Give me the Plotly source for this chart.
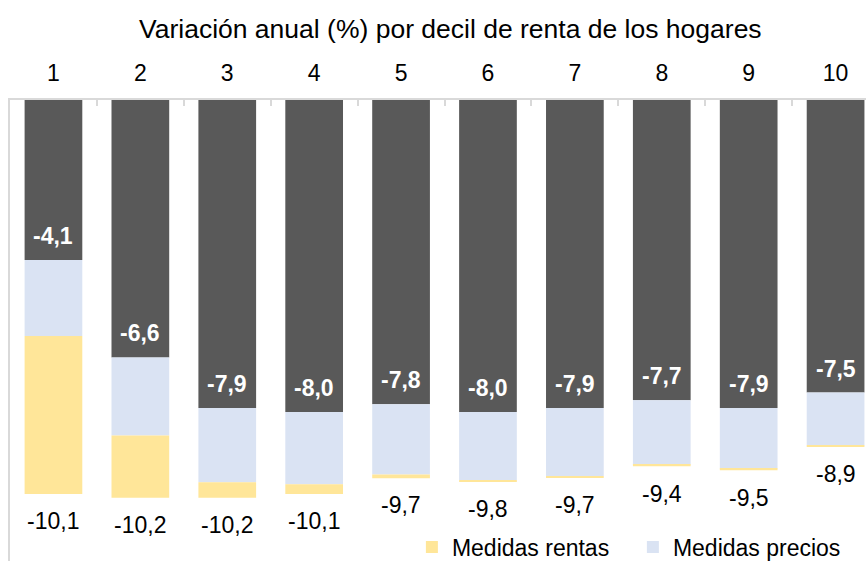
import plotly.graph_objects as go

# ---- data ----
deciles = ["1", "2", "3", "4", "5", "6", "7", "8", "9", "10"]
sin_medidas = [-4.1, -6.6, -7.9, -8.0, -7.8, -8.0, -7.9, -7.7, -7.9, -7.5]
medidas_precios = [-1.95, -2.0, -1.9, -1.85, -1.8, -1.75, -1.75, -1.65, -1.55, -1.35]
medidas_rentas = [-4.05, -1.6, -0.4, -0.25, -0.1, -0.04, -0.04, -0.04, -0.04, -0.04]
title_text = "Variación anual (%) por decil de renta de los hogares"

totales = [round(a + b + c, 1) for a, b, c in zip(sin_medidas, medidas_precios, medidas_rentas)]


def fmt(v):
    return f"{v:.1f}".replace(".", ",")


FONT = "Liberation Sans, Arial, sans-serif"
FS = 23
GRAY = "#595959"
BLUE = "#DAE3F3"
YELLOW = "#FFE699"
AXIS = "#D9D9D9"

fig = go.Figure()
fig.add_trace(go.Bar(x=deciles, y=sin_medidas, name="Sin medidas",
                     marker=dict(color=GRAY, line=dict(width=0)), showlegend=False,
                     hoverinfo="skip"))
fig.add_trace(go.Bar(x=deciles, y=medidas_precios, name="Medidas precios",
                     marker=dict(color=BLUE, line=dict(width=0))))
fig.add_trace(go.Bar(x=deciles, y=medidas_rentas, name="Medidas rentas",
                     marker=dict(color=YELLOW, line=dict(width=0))))

annotations = []
for i, v in enumerate(sin_medidas):
    annotations.append(dict(x=i, y=v, xref="x", yref="y", text="<b>" + fmt(v) + "</b>",
                            showarrow=False, yanchor="middle", yshift=24,
                            font=dict(family=FONT, size=FS, color="white")))
for i, v in enumerate(totales):
    annotations.append(dict(x=i, y=v, xref="x", yref="y", text=fmt(v),
                            showarrow=False, yanchor="middle", yshift=-27,
                            font=dict(family=FONT, size=FS, color="black")))

fig.update_layout(
    width=866, height=561,
    margin=dict(l=10, r=0, t=100, b=0, pad=0, autoexpand=False),
    paper_bgcolor="white", plot_bgcolor="white",
    barmode="relative", bargap=0.336,
    font=dict(family=FONT, size=FS, color="black"),
    title=dict(text=title_text, x=0.52, xanchor="center", y=1 - 29 / 561, yanchor="middle",
               font=dict(family=FONT, size=26.5, color="black")),
    xaxis=dict(type="category", side="top", range=[-0.5, 9.35], automargin=False,
               showline=True, linecolor=AXIS, linewidth=2,
               ticks="inside", tickson="boundaries", ticklen=6, tickwidth=2, tickcolor=AXIS,
               tickfont=dict(family=FONT, size=FS, color="black"),
               ticklabelstandoff=8, showgrid=False),
    yaxis=dict(range=[-11.82, 0], automargin=False, showline=True, linecolor=AXIS, linewidth=2,
               showticklabels=False, ticks="", showgrid=False, zeroline=False),
    legend=dict(orientation="h", traceorder="reversed", x=0.4695, xanchor="left",
                y=0.03, yanchor="middle", bgcolor="rgba(0,0,0,0)",
                entrywidth=176, entrywidthmode="pixels",
                font=dict(family=FONT, size=FS, color="black")),
    annotations=annotations,
)

fig.write_html("out.html", config={"displayModeBar": False},
               post_script="document.body.style.margin='0';")
